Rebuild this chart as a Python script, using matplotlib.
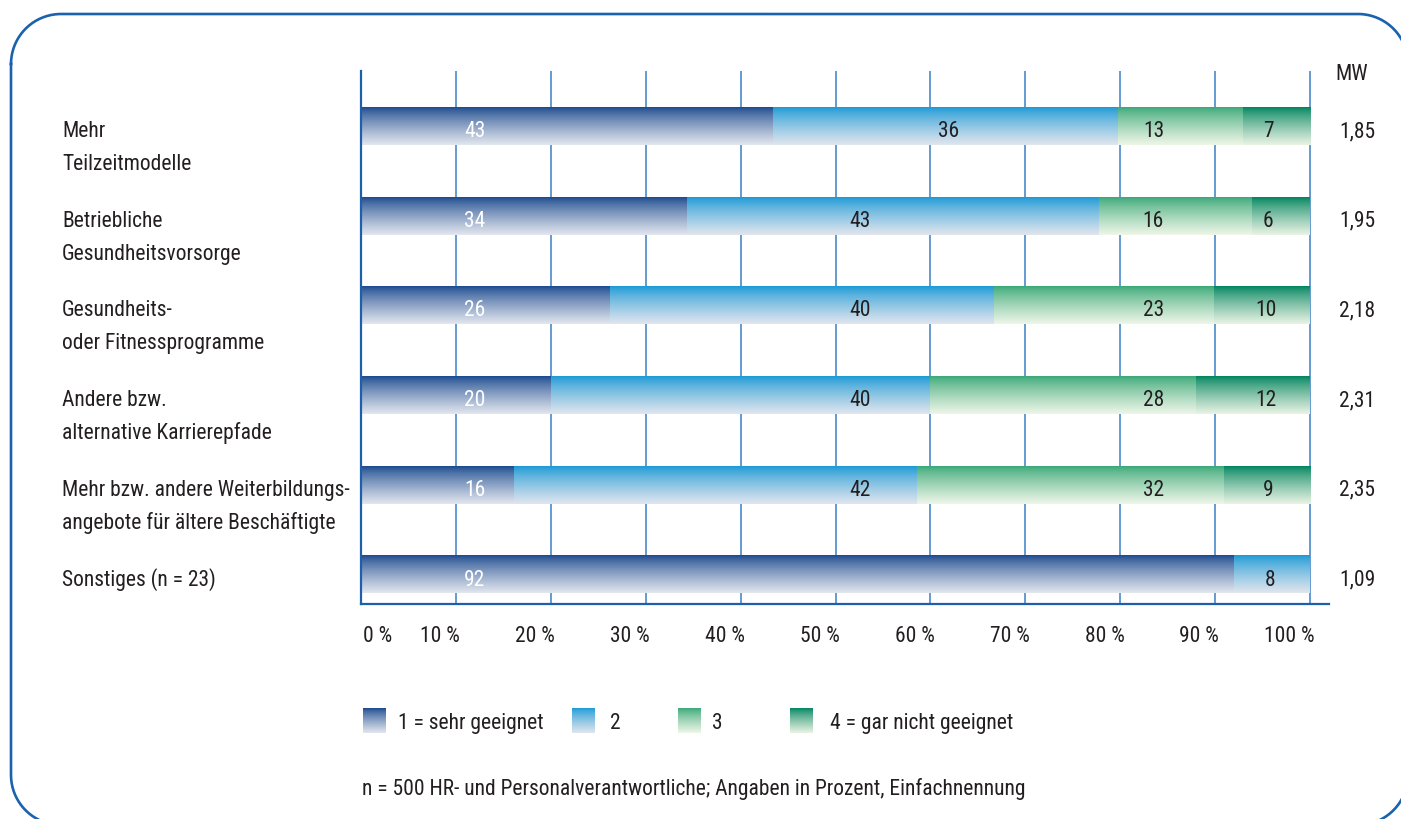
import numpy as np
import matplotlib
matplotlib.use("Agg")
import matplotlib.pyplot as plt
from matplotlib.transforms import blended_transform_factory
from matplotlib.colors import to_rgb
from matplotlib import font_manager

# ---------------- data ----------------
categories = [
    ["Mehr", "Teilzeitmodelle"],
    ["Betriebliche", "Gesundheitsvorsorge"],
    ["Gesundheits-", "oder Fitnessprogramme"],
    ["Andere bzw.", "alternative Karrierepfade"],
    ["Mehr bzw. andere Weiterbildungs-", "angebote für ältere Beschäftigte"],
    ["Sonstiges (n = 23)"],
]
s1 = [43, 34, 26, 20, 16, 92]
s2 = [36, 43, 40, 40, 42, 8]
s3 = [13, 16, 23, 28, 32, 0]
s4 = [7, 6, 10, 12, 9, 0]
mw = ["1,85", "1,95", "2,18", "2,31", "2,35", "1,09"]
xticks = [0, 10, 20, 30, 40, 50, 60, 70, 80, 90, 100]
xticklabels = ["0 %", "10 %", "20 %", "30 %", "40 %", "50 %", "60 %", "70 %", "80 %", "90 %", "100 %"]
legend_labels = ["1 = sehr geeignet", "2", "3", "4 = gar nicht geeignet"]
mw_header = "MW"
footnote = "n = 500 HR- und Personalverantwortliche; Angaben in Prozent, Einfachnennung"

# ---------------- style / layout ----------------
installed = {f.name for f in font_manager.fontManager.ttflist}
FONT = [f for f in ["Roboto Condensed", "DejaVu Sans Condensed", "Liberation Sans Narrow",
                    "Roboto", "DejaVu Sans"] if f in installed] or ["DejaVu Sans"]
plt.rcParams["font.family"] = FONT
narrow = FONT[0] in ("Roboto Condensed", "DejaVu Sans Condensed", "Liberation Sans Narrow")
FS = 15.5 if narrow else 13.3
TXT = "#231f20"
FRAME = "#1a62ae"
GRID = "#3b80c4"
SPINE = "#1d5fa8"
grads = [("#1b4a8f", "#e2e6ee"), ("#1c9ad6", "#e0e5ee"),
         ("#3aa878", "#eef6e8"), ("#00845e", "#e9f3e4")]
lab_x = [[12.0, 61.9, 83.5, 95.6],
         [12.0, 52.6, 83.5, 95.6],
         [12.0, 52.6, 83.5, 95.4],
         [12.0, 52.6, 83.5, 95.4],
         [12.0, 52.6, 83.5, 95.6],
         [12.0, 95.8, 0, 0]]
BAR_H = 0.42
PX_PER_ROW = 89.7

W, H = 1401, 819
fig = plt.figure(figsize=(W / 100, H / 100), dpi=100)

ov = fig.add_axes([0, 0, 1, 1], zorder=0)
ov.axis("off")

# rounded frame (right and bottom edges lie outside the canvas)
fx0, fy0, fx1, fy1, r = 11, 14, 1408, 825, 50


def arc(cx, cy, a0, a1, n=40):
    a = np.radians(np.linspace(a0, a1, n))
    return cx + r * np.cos(a), cy + r * np.sin(a)


pts_x, pts_y = [], []
for (cx, cy, a0, a1) in [(fx0 + r, fy0 + r, 180, 270), (fx1 - r, fy0 + r, 270, 360),
                         (fx1 - r, fy1 - r, 0, 90), (fx0 + r, fy1 - r, 90, 180)]:
    ax_, ay_ = arc(cx, cy, a0, a1)
    pts_x.extend(ax_)
    pts_y.extend(ay_)
pts_x.append(pts_x[0])
pts_y.append(pts_y[0])
ov.plot(pts_x, pts_y, color=FRAME, lw=1.9, solid_joinstyle="round")


def gradient(top, bottom, n=64):
    t = np.linspace(0, 1, n) ** 0.8
    a = np.array(to_rgb(top))
    b = np.array(to_rgb(bottom))
    return (a[None, :] * (1 - t[:, None]) + b[None, :] * t[:, None])[:, None, :]


x0, x100 = 361, 1310
xmax = 102.0
top_px, bot_px = 71, 604
ax = fig.add_axes([x0 / W, 1 - bot_px / H, (x100 - x0) * xmax / 100 / W, (bot_px - top_px) / H],
                  zorder=1)
ax.patch.set_alpha(0)
row0_px = 126
ytop = -(row0_px - top_px) / PX_PER_ROW
ybot = 5 + (bot_px - (row0_px + 5 * PX_PER_ROW)) / PX_PER_ROW

for xv in xticks[1:]:
    ax.plot([xv, xv], [ybot, ytop], color=GRID, lw=1.1, zorder=1, solid_capstyle="butt")

series = [s1, s2, s3, s4]
for i in range(len(categories)):
    vals = [s[i] for s in series]
    total = sum(vals)
    left = 0.0
    for j, v in enumerate(vals):
        if v <= 0:
            continue
        w = v / total * 100
        ax.imshow(gradient(*grads[j]), extent=(left, left + w, i + BAR_H / 2, i - BAR_H / 2),
                  origin="upper", aspect="auto", interpolation="bilinear", zorder=2)
        ax.text(lab_x[i][j], i + 11 / PX_PER_ROW, str(v), ha="center", va="baseline",
                fontsize=FS, color="white" if j == 0 else TXT, zorder=3)
        left += w

ax.set_xlim(0, xmax)
ax.set_ylim(ybot, ytop)
for sp in ["top", "right"]:
    ax.spines[sp].set_visible(False)
for sp in ["left", "bottom"]:
    ax.spines[sp].set_color(SPINE)
    ax.spines[sp].set_linewidth(1.6)
ax.set_xticks([])
ax.set_yticks([])

# legend squares
leg_sq_x = [363, 572, 678, 790]
leg_txt_x = [398, 610, 712, 830]
for j, lab in enumerate(legend_labels):
    sx = leg_sq_x[j]
    ov.imshow(gradient(*grads[j]), extent=(sx, sx + 23, 733, 708), origin="upper",
              aspect="auto", interpolation="bilinear")
    ov.text(leg_txt_x[j], 729, lab, ha="left", va="baseline", fontsize=FS, color=TXT)
ov.set_xlim(0, W)
ov.set_ylim(H, 0)

tr_x = blended_transform_factory(ax.transData, ov.transData)
for xv, lab in zip(xticks, xticklabels):
    if xv == 0:
        ov.text(x0 + 2, 642, lab, ha="left", va="baseline", fontsize=FS, color=TXT)
    else:
        ax.text(xv + 0.45, 642, lab, ha="right", va="baseline", fontsize=FS, color=TXT,
                transform=tr_x)

tr_lab = blended_transform_factory(ov.transData, ax.transData)
for i, lines in enumerate(categories):
    for k, line in enumerate(lines):
        ax.text(62, i + (11 + 33 * k) / PX_PER_ROW, line, ha="left", va="baseline",
                fontsize=FS, color=TXT, transform=tr_lab)
    ax.text(1357, i + 11 / PX_PER_ROW, mw[i], ha="center", va="baseline",
            fontsize=FS, color=TXT, transform=tr_lab)
ov.text(1352, 80, mw_header, ha="center", va="baseline", fontsize=FS, color=TXT)

ov.text(362, 795, footnote, ha="left", va="baseline", fontsize=FS, color=TXT)

fig.savefig("out.png", dpi=100)
